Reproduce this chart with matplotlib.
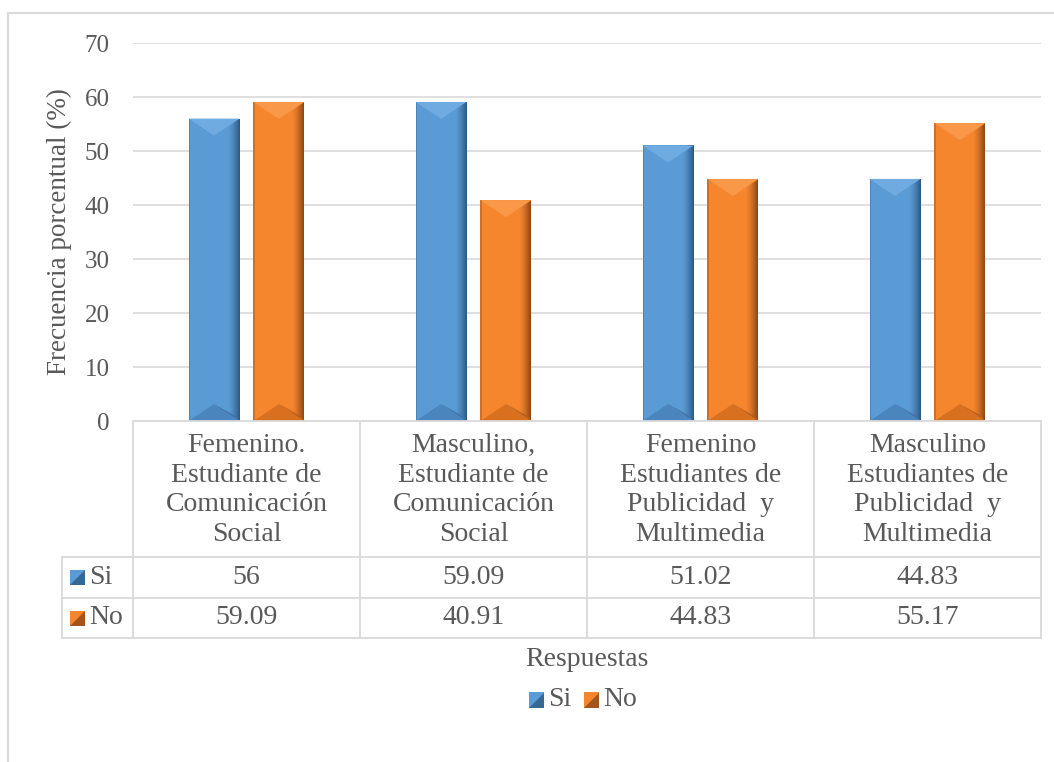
import matplotlib
matplotlib.use("Agg")
import matplotlib.pyplot as plt
import matplotlib.transforms as mtransforms
from matplotlib.patches import Polygon, Rectangle
from matplotlib.lines import Line2D
import numpy as np

# ---------------- data ----------------
categories = [
    "Femenino.\nEstudiante de\nComunicación\nSocial",
    "Masculino,\nEstudiante de\nComunicación\nSocial",
    "Femenino\nEstudiantes de\nPublicidad  y\nMultimedia",
    "Masculino\nEstudiantes de\nPublicidad  y\nMultimedia",
]
series_names = ["Si", "No"]
si_values = [56, 59.09, 51.02, 44.83]
no_values = [59.09, 40.91, 44.83, 55.17]
si_labels = ["56", "59.09", "51.02", "44.83"]
no_labels = ["59.09", "40.91", "44.83", "55.17"]
yticks = [0, 10, 20, 30, 40, 50, 60, 70]
ylabel = "Frecuencia porcentual (%)"
xlabel = "Respuestas"

# ---------------- style ----------------
FONT = "Liberation Serif"
TXT = "#595959"
GRID = "#d9d9d9"
W, H = 1054, 762
blue = dict(main="#5B9BD5", top="#6FAAE0", bot="#4A86BD", edge="#2B577F")
orange = dict(main="#F5862E", top="#F99848", bot="#D8701F", edge="#8A4515")

plt.rcParams["font.family"] = "serif"
plt.rcParams["font.serif"] = [FONT, "DejaVu Serif"]

fig = plt.figure(figsize=(W / 100, H / 100), dpi=100)
fig.patch.set_facecolor("white")

def fx(x):
    return x / W

def fy(y):
    return 1 - y / H

def txt(x, y, s, transform=None, **kw):
    kw.setdefault("color", TXT)
    kw.setdefault("fontsize", 20)
    kw.setdefault("family", FONT)
    if transform is None:
        transform = fig.transFigure
    return fig.text(x, y, s, transform=transform, **kw)

ax_left, ax_right, ax_top, ax_bot = 133, 1041, 43, 421
ax = fig.add_axes([fx(ax_left), fy(ax_bot), fx(ax_right - ax_left), (ax_bot - ax_top) / H])
ax.set_xlim(-0.5, len(categories) - 0.5)
ax.set_ylim(0, 70)
for s in ax.spines.values():
    s.set_visible(False)
ax.set_yticks(yticks)
ax.set_yticklabels([str(t) for t in yticks], fontsize=18, color=TXT, family=FONT)
ax.tick_params(axis="y", length=0, pad=17)
ax.set_xticks([])
for t in yticks[1:]:
    ax.axhline(t, color=GRID, lw=1.2, zorder=0)
ax.set_facecolor("none")

ax.set_ylabel(ylabel, fontsize=19.5, color=TXT, family=FONT)
ax.yaxis.set_label_coords((72 - ax_left) / (ax_right - ax_left), 0.5)

px_x = (len(categories)) / (ax_right - ax_left)  # data units per px (x)
px_y = 70 / (ax_bot - ax_top)                       # data units per px (y)

bar_w = 0.225
offset = 0.143

def _mix(c1, c2, t):
    a = np.array(matplotlib.colors.to_rgb(c1))
    b = np.array(matplotlib.colors.to_rgb(c2))
    return tuple(a * (1 - t) + b * t)

def bevel_bar(xc, h, col):
    x0, x1 = xc - bar_w / 2, xc + bar_w / 2
    ax.bar(xc, h, width=bar_w, color=col["main"], zorder=2, linewidth=0)
    n = 12
    strip = 12 * px_x
    for i in range(n):
        t = (i + 1) / n
        xa = x1 - strip + strip * i / n
        ax.fill([xa, xa + strip / n, xa + strip / n, xa], [0, 0, h, h],
                color=_mix(col["main"], col["edge"], t ** 1.5 * 0.95), lw=0, zorder=3)
    ax.fill([x0, x0 + 1.5 * px_x, x0 + 1.5 * px_x, x0], [0, 0, h, h],
            color=_mix(col["main"], col["edge"], 0.35), lw=0, zorder=3)
    d = 17 * px_y
    ax.fill([x0, x1, xc], [h, h, h - d], color=col["top"], lw=0, zorder=4)
    ax.fill([x0, x1, xc], [0, 0, d], color=col["bot"], lw=0, zorder=4)
    ax.fill([xc, x1, x1 - 4 * px_x], [d, 0, 5 * px_y], color=_mix(col["bot"], col["edge"], 0.4),
            lw=0, zorder=4)

for i in range(len(categories)):
    bevel_bar(i - offset, si_values[i], blue)
    bevel_bar(i + offset, no_values[i], orange)

# ---------------- data table ----------------
tr = mtransforms.blended_transform_factory(ax.transData, fig.transFigure)
row_top, row_si, row_no, row_end = 421, 557, 598, 638
left_col = 62
lw = 1.3

def hline(y, xa_px, xb_px):
    fig.add_artist(Line2D([fx(xa_px), fx(xb_px)], [fy(y), fy(y)], color=GRID, lw=lw,
                          transform=fig.transFigure))

hline(row_top, ax_left, ax_right)
for y in (row_si, row_no, row_end):
    hline(y, left_col, ax_right)
for b in np.arange(-0.5, len(categories), 1.0):
    fig.add_artist(Line2D([b, b], [fy(row_top), fy(row_end)], color=GRID, lw=lw, transform=tr))
fig.add_artist(Line2D([fx(left_col)] * 2, [fy(row_si), fy(row_end)], color=GRID, lw=lw,
                      transform=fig.transFigure))

for i, cat in enumerate(categories):
    txt(i, fy((row_top + row_si) / 2 + 1), cat, transform=tr, ha="center", va="center",
        linespacing=1.25)
    txt(i, fy((row_si + row_no) / 2), si_labels[i], transform=tr, ha="center", va="center")
    txt(i, fy((row_no + row_end) / 2), no_labels[i], transform=tr, ha="center", va="center")

def key(xp, yc, col, size=15):
    x0, x1 = fx(xp), fx(xp + size)
    y0, y1 = fy(yc + size / 2), fy(yc - size / 2)
    fig.add_artist(Rectangle((x0, y0), x1 - x0, y1 - y0, color=col["main"], lw=0,
                             transform=fig.transFigure))
    fig.add_artist(Polygon([(x1, y1), (x1, y0), (x0, y0)], closed=True, color=col["edge"], lw=0,
                           transform=fig.transFigure, alpha=0.75))

key(70, (row_si + row_no) / 2, blue)
key(70, (row_no + row_end) / 2, orange)
txt(fx(89), fy((row_si + row_no) / 2), series_names[0], ha="left", va="center")
txt(fx(89), fy((row_no + row_end) / 2), series_names[1], ha="left", va="center")

txt(fx((ax_left + ax_right) / 2), fy(660), xlabel, ha="center", va="center")

key(529, 700, blue)
txt(fx(548), fy(700), series_names[0], ha="left", va="center")
key(584, 700, orange)
txt(fx(603), fy(700), series_names[1], ha="left", va="center")

fig.add_artist(Line2D([fx(8), fx(8)], [fy(13), 0], color=GRID, lw=1.5, transform=fig.transFigure))
fig.add_artist(Line2D([fx(8), 1], [fy(13), fy(13)], color=GRID, lw=1.5, transform=fig.transFigure))

fig.savefig("out.png", dpi=100, facecolor="white")
